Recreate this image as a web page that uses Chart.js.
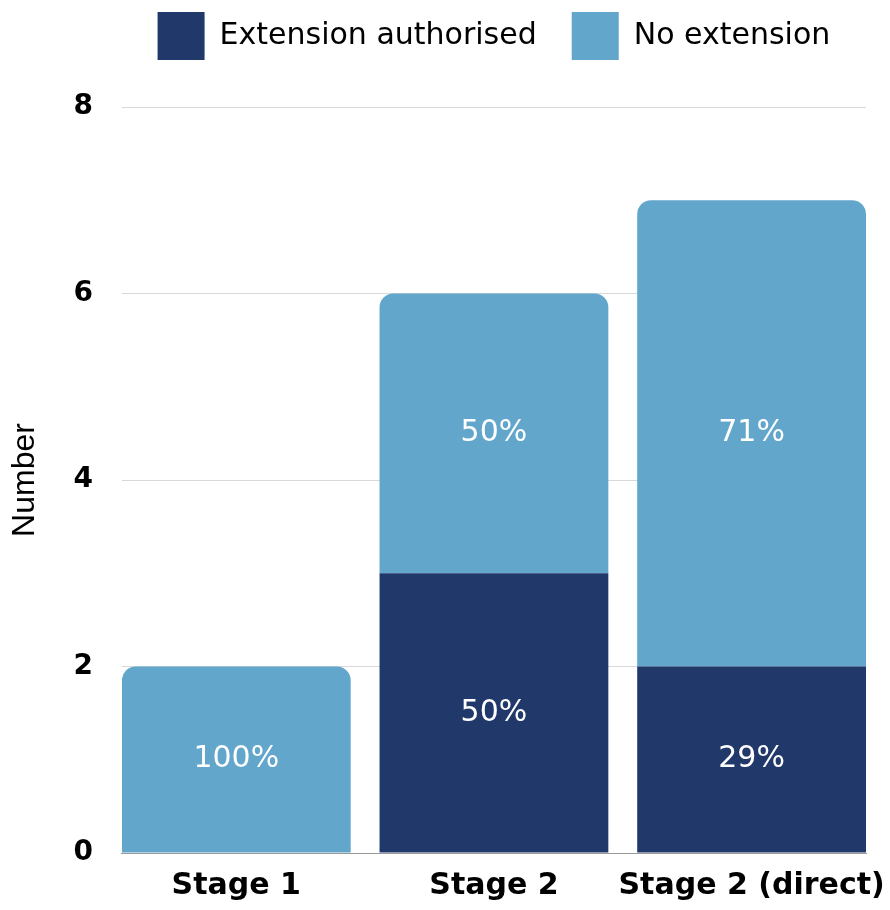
<!DOCTYPE html>
<html>
<head>
<meta charset="utf-8">
<script src="https://cdn.jsdelivr.net/npm/chart.js@4.4.1/dist/chart.umd.min.js"></script>
<style>
  html, body { margin: 0; padding: 0; background: #fff; }
  #wrap { width: 890px; height: 910px; }
</style>
</head>
<body>
<div id="wrap"><canvas id="chart" width="890" height="910"></canvas></div>
<script>
const stages = ["Stage 1", "Stage 2", "Stage 2 (direct)"];
const seriesNames = ["Extension authorised", "No extension"];
const extensionAuthorised = [0, 3, 2];
const noExtension = [2, 3, 5];
const yTicks = [0, 2, 4, 6, 8];

const DARK = "#20386a";
const LIGHT = "#62a6cb";
const BAR_FRACTION = 0.888; // bar width vs. spacing between bar centres

// white percentage text in the middle of each segment
const pctLabels = {
    id: "pctLabels",
    afterDatasetsDraw(chart) {
        const ctx = chart.ctx;
        ctx.save();
        ctx.font = '30px "DejaVu Sans"';
        ctx.fillStyle = "#fff";
        ctx.textAlign = "center";
        ctx.textBaseline = "middle";
        chart.data.datasets.forEach((ds, di) => {
            chart.getDatasetMeta(di).data.forEach((bar, i) => {
                const v = ds.data[i].y;
                if (!v) return;
                const total = extensionAuthorised[i] + noExtension[i];
                ctx.fillText(Math.round(v / total * 100) + "%", bar.x, (bar.y + bar.base) / 2);
            });
        });
        ctx.restore();
    }
};

// push the plot down a bit below the legend
const legendGap = {
    id: "legendGap",
    beforeInit(chart) {
        const fit = chart.legend.fit;
        chart.legend.fit = function () {
            fit.call(this);
            this.height += 37;
        };
    }
};

const toPoints = (arr) => arr.map((v, i) => ({ x: i, y: v }));

new Chart(document.getElementById("chart"), {
    type: "bar",
    data: {
        datasets: [
            {
                label: seriesNames[0],
                data: toPoints(extensionAuthorised),
                backgroundColor: DARK,
                borderWidth: 0
            },
            {
                label: seriesNames[1],
                data: toPoints(noExtension),
                backgroundColor: LIGHT,
                borderWidth: 0,
                borderRadius: { topLeft: 14, topRight: 14, bottomLeft: 0, bottomRight: 0 },
                borderSkipped: "start"
            }
        ]
    },
    options: {
        responsive: false,
        animation: false,
        categoryPercentage: 1,
        barPercentage: BAR_FRACTION,
        layout: { padding: { top: -23, right: 24, bottom: 6, left: 0 } },
        plugins: {
            tooltip: { enabled: false },
            legend: {
                position: "top",
                fullSize: false,
                labels: {
                    boxWidth: 47,
                    boxHeight: 48,
                    padding: 35,
                    color: "#000",
                    font: { family: "DejaVu Sans", size: 30 }
                }
            }
        },
        scales: {
            x: {
                type: "linear",
                stacked: true,
                offset: false,
                min: -BAR_FRACTION / 2,
                max: stages.length - 1 + BAR_FRACTION / 2,
                grid: { display: false, drawTicks: true, tickLength: 15 },
                border: { display: true, color: "#9a9a9a", width: 1 },
                afterBuildTicks(scale) {
                    scale.ticks = stages.map((s, i) => ({ value: i }));
                },
                afterFit(scale) {
                    // labels may hang past the plot edge, as in the original
                    scale.paddingLeft = 0;
                    scale.paddingRight = 0;
                },
                ticks: {
                    autoSkip: false,
                    maxRotation: 0,
                    padding: 0,
                    color: "#000",
                    font: { family: "DejaVu Sans", size: 30, weight: "bold" },
                    callback: (v) => stages[v]
                }
            },
            y: {
                stacked: true,
                min: yTicks[0],
                max: yTicks[yTicks.length - 1],
                grid: { color: "#d9d9d9", drawTicks: false },
                border: { display: false },
                afterBuildTicks(scale) {
                    scale.ticks = yTicks.map((v) => ({ value: v }));
                },
                ticks: {
                    padding: 29,
                    color: "#000",
                    font: { family: "DejaVu Sans", size: 28, weight: "bold" }
                },
                title: {
                    display: true,
                    text: "Number",
                    color: "#000",
                    padding: { top: 6, bottom: 0 },
                    font: { family: "Liberation Sans", size: 32 }
                }
            }
        }
    },
    plugins: [pctLabels, legendGap]
});
</script>
</body>
</html>
